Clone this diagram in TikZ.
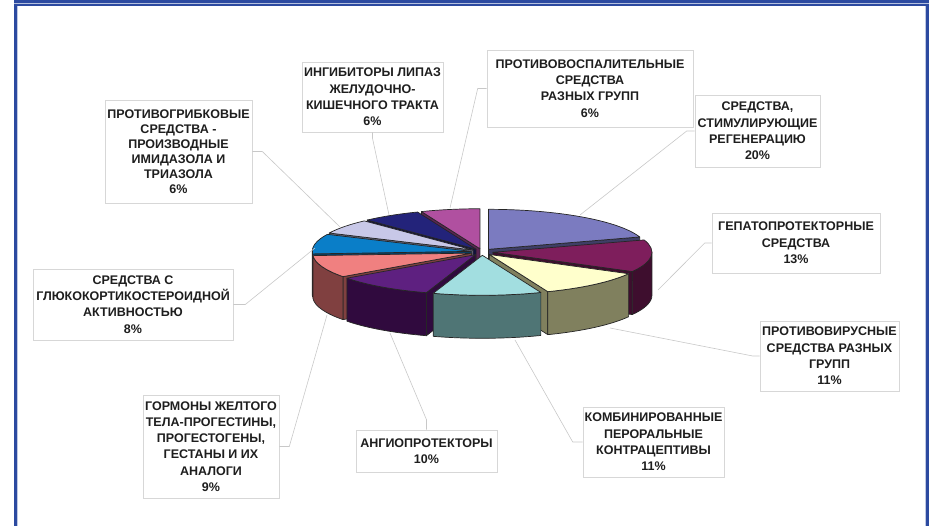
\documentclass[tikz,border=0pt]{standalone}
\usepackage{fontspec}
\setmainfont{Liberation Sans}
\definecolor{framecol}{RGB}{44,74,160}
\definecolor{boxgray}{RGB}{215,215,215}
\definecolor{leadgray}{RGB}{200,200,200}
\definecolor{txtcol}{RGB}{30,30,30}
\definecolor{magtop}{HTML}{B050A0}
\definecolor{magside}{HTML}{5A2452}
\definecolor{navytop}{HTML}{23237A}
\definecolor{navyside}{HTML}{12123C}
\definecolor{regtop}{HTML}{7B7BC0}
\definecolor{regside}{HTML}{3E3E66}
\definecolor{lavtop}{HTML}{C8C8E8}
\definecolor{lavside}{HTML}{64647A}
\definecolor{bluetop}{HTML}{0A7EC8}
\definecolor{blueside}{HTML}{064068}
\definecolor{martop}{HTML}{7E1E5C}
\definecolor{marside}{HTML}{3E0E2E}
\definecolor{saltop}{HTML}{F08080}
\definecolor{salside}{HTML}{804040}
\definecolor{yeltop}{HTML}{FFFFCC}
\definecolor{yelside}{HTML}{80805E}
\definecolor{purtop}{HTML}{5E2080}
\definecolor{purside}{HTML}{300A3E}
\definecolor{teatop}{HTML}{A2DEE0}
\definecolor{teaside}{HTML}{4F7575}
\tikzstyle{lbl} = [rectangle, draw=boxgray, fill=white, line width=0.6pt, align=center, text=txtcol, font=\fontsize{12.5}{16.3}\selectfont\bfseries, inner sep=0pt]
\tikzstyle{lead} = [draw=leadgray, line width=0.6pt]
\tikzstyle{edge} = [draw=black!85, line width=0.7pt, line join=round]
% pie geometry
\def\prx{159}
\def\pry{40}
\def\pdep{43}
\def\pexp{11}
% #1 start angle, #2 end angle, #3 top colour, #4 side colour
\newcommand{\pieslice}[4]{%
  \pgfmathsetmacro\pmid{(#1+#2)/2}
  \pgfmathsetmacro\pox{\pexp*cos(\pmid)}
  \pgfmathsetmacro\poy{0.3*\pexp*sin(\pmid)}
  \begin{scope}[shift={(\pox,\poy)}]
    \pgfmathsetmacro\pcs{cos(#1)}
    \ifdim\pcs pt<0pt
      \filldraw[edge, fill=#4] (0,0) -- ({\prx*cos(#1)},{\pry*sin(#1)}) -- ++(0,-\pdep) -- (0,-\pdep) -- cycle;
    \fi
    \pgfmathsetmacro\pce{cos(#2)}
    \ifdim\pce pt>0pt
      \filldraw[edge, fill=#4] (0,0) -- ({\prx*cos(#2)},{\pry*sin(#2)}) -- ++(0,-\pdep) -- (0,-\pdep) -- cycle;
    \fi
    \pgfmathsetmacro\pfa{max(#2,-180)}
    \pgfmathsetmacro\pfb{min(#1,0)}
    \ifdim\pfa pt<\pfb pt
      \filldraw[edge, fill=#4] ({\prx*cos(\pfb)},{\pry*sin(\pfb)}) arc[start angle=\pfb, end angle=\pfa, x radius=\prx, y radius=\pry] -- ++(0,-\pdep) arc[start angle=\pfa, end angle=\pfb, x radius=\prx, y radius=\pry] -- cycle;
    \fi
    \filldraw[edge, fill=#3] (0,0) -- ({\prx*cos(#1)},{\pry*sin(#1)}) arc[start angle=#1, end angle=#2, x radius=\prx, y radius=\pry] -- cycle;
  \end{scope}
}
\begin{document}
\begin{tikzpicture}[x=1pt, y=1pt]
	\useasboundingbox (0,0) rectangle (936,526);
	% frame
	\fill[framecol] (14,523.3) rectangle (929,526);
	\fill[framecol!35] (14,522.4) rectangle (929,523.3);
	\fill[framecol] (17,519.6) rectangle (928.5,522.4);
	\fill[framecol] (14,0) rectangle (17,522.4);
	\fill[framecol!30] (17,0) rectangle (18,519.6);
	\fill[framecol] (925.7,0) rectangle (928.5,522.4);
	\fill[framecol!30] (924.7,0) rectangle (925.7,519.6);
	% pie, back slices first
	\begin{scope}[shift={(482,274)}]
		\pieslice{-248.4}{-270}{magtop}{magside}
		\pieslice{-226.8}{-248.4}{navytop}{navyside}
		\pieslice{90}{18}{regtop}{regside}
		\pieslice{-205.2}{-226.8}{lavtop}{lavside}
		\pieslice{-176.4}{-205.2}{bluetop}{blueside}
		\pieslice{18}{-28.8}{martop}{marside}
		\pieslice{-144}{-176.4}{saltop}{salside}
		\pieslice{-28.8}{-68.4}{yeltop}{yelside}
		\pieslice{-108}{-144}{purtop}{purside}
		\pieslice{-68.4}{-108}{teatop}{teaside}
	\end{scope}
	% labels
	\node (ingib) [lbl, minimum width=141, minimum height=70] at (372.5,429) {ИНГИБИТОРЫ ЛИПАЗ\\ЖЕЛУДОЧНО-\\КИШЕЧНОГО ТРАКТА\\6\%};
	\node (vospal) [lbl, minimum width=206, minimum height=77] at (590,437.5) {ПРОТИВОВОСПАЛИТЕЛЬНЫЕ\\СРЕДСТВА\\РАЗНЫХ ГРУПП\\6\%};
	\node (regen) [lbl, minimum width=125, minimum height=72] at (757.5,395) {СРЕДСТВА,\\СТИМУЛИРУЮЩИЕ\\РЕГЕНЕРАЦИЮ\\20\%};
	\node (gepato) [lbl, minimum width=168, minimum height=60] at (796,283) {ГЕПАТОПРОТЕКТОРНЫЕ\\СРЕДСТВА\\13\%};
	\node (virus) [lbl, minimum width=139, minimum height=70] at (829.5,170) {ПРОТИВОВИРУСНЫЕ\\СРЕДСТВА РАЗНЫХ\\ГРУПП\\11\%};
	\node (kombi) [lbl, minimum width=141, minimum height=70] at (653.5,84) {КОМБИНИРОВАННЫЕ\\ПЕРОРАЛЬНЫЕ\\КОНТРАЦЕПТИВЫ\\11\%};
	\node (angio) [lbl, minimum width=141, minimum height=42] at (426.5,75) {АНГИОПРОТЕКТОРЫ\\10\%};
	\node (gormon) [lbl, minimum width=136, minimum height=103] at (211,79.5) {ГОРМОНЫ ЖЕЛТОГО\\ТЕЛА-ПРОГЕСТИНЫ,\\ПРОГЕСТОГЕНЫ,\\ГЕСТАНЫ И ИХ\\АНАЛОГИ\\9\%};
	\node (gluko) [lbl, minimum width=200, minimum height=71] at (133,221.5) {СРЕДСТВА С\\ГЛЮКОКОРТИКОСТЕРОИДНОЙ\\АКТИВНОСТЬЮ\\8\%};
	\node (grib) [lbl, minimum width=147, minimum height=103, font=\fontsize{12.5}{15}\selectfont\bfseries] at (178.5,374.5) {ПРОТИВОГРИБКОВЫЕ\\СРЕДСТВА -\\ПРОИЗВОДНЫЕ\\ИМИДАЗОЛА И\\ТРИАЗОЛА\\6\%};
	% leader ends on the pie
	\coordinate (ingib-end) at (389,311);
	\coordinate (vospal-end) at (450,318);
	\coordinate (regen-end) at (580,311);
	\coordinate (gepato-end) at (658,236);
	\coordinate (virus-end) at (610,198);
	\coordinate (kombi-end) at (515,186);
	\coordinate (angio-end) at (390,193);
	\coordinate (gormon-end) at (327,211);
	\coordinate (gluko-end) at (315,278);
	\coordinate (grib-end) at (340,299);
	\draw [lead] (ingib.south) -- ++(0,-6) -- (ingib-end);
	\draw [lead] (vospal.west) -- ++(-9,0) -- (vospal-end);
	\draw [lead] (regen.west) -- ++(-8,0) -- (regen-end);
	\draw [lead] (gepato.west) -- ++(-7,0) -- (gepato-end);
	\draw [lead] (virus.west) -- ++(-7,0) -- (virus-end);
	\draw [lead] (kombi.west) -- ++(-10,0) -- (kombi-end);
	\draw [lead] (angio.north) -- ++(0,10) -- (angio-end);
	\draw [lead] (gormon.east) -- ++(10,0) -- (gormon-end);
	\draw [lead] (gluko.east) -- ++(12,0) -- (gluko-end);
	\draw [lead] (grib.east) -- ++(10,0) -- (grib-end);
\end{tikzpicture}
\end{document}
